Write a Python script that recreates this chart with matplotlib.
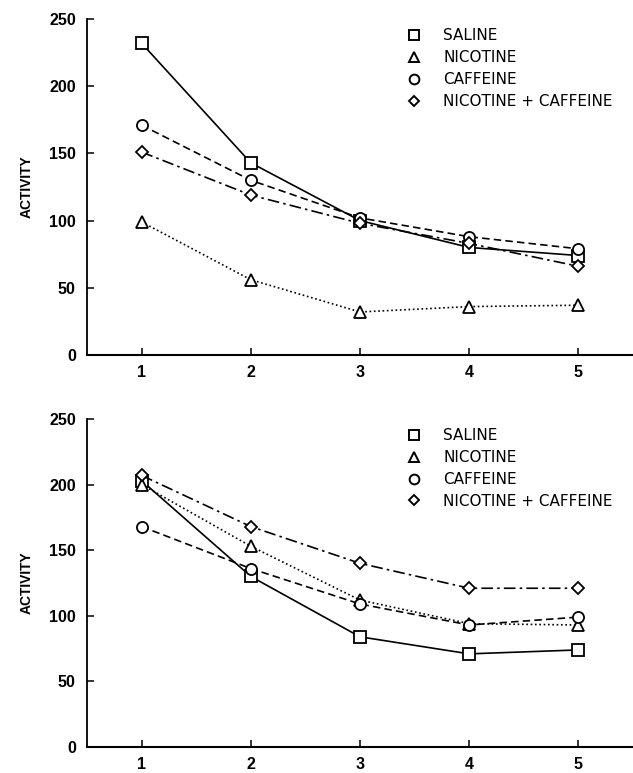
"""Activity across sessions for four treatment groups (two panels)."""

import matplotlib
matplotlib.use("Agg")
import matplotlib.pyplot as plt
from matplotlib.lines import Line2D

sessions = [1, 2, 3, 4, 5]
groups = ["SALINE", "NICOTINE", "CAFFEINE", "NICOTINE + CAFFEINE"]

# top panel
top_saline = [232, 143, 100, 80, 74]
top_nicotine = [99, 56, 32, 36, 37]
top_caffeine = [171, 130, 102, 88, 79]
top_nic_caf = [151, 119, 98, 83, 66]

# bottom panel
bot_saline = [203, 130, 84, 71, 74]
bot_nicotine = [200, 153, 112, 94, 93]
bot_caffeine = [168, 136, 109, 93, 99]
bot_nic_caf = [207, 168, 140, 121, 121]

yticks = [0, 50, 100, 150, 200, 250]

STYLES = [
    ("s", "-"),
    ("^", (0, (1, 1.6))),
    ("o", (0, (4.5, 2.5))),
    ("D", (0, (7, 2.5, 1.5, 2.5))),
]

plt.rcParams.update(
    {
        "font.family": ["Liberation Sans", "DejaVu Sans"],
        "font.weight": "bold",
    }
)


def draw_panel(ax, series):
    for values, (marker, ls) in zip(series, STYLES):
        ms = 6.5 if marker == "D" else 8
        ax.plot(
            sessions, values, color="black", linestyle=ls, linewidth=1.2,
            marker=marker, markersize=ms, markerfacecolor="white",
            markeredgecolor="black", markeredgewidth=1.3,
        )
    ax.set_xlim(0.5, 5.5)
    ax.set_ylim(0, 250)
    ax.set_xticks(sessions)
    ax.set_yticks(yticks)
    ax.spines["top"].set_visible(False)
    ax.spines["right"].set_visible(False)
    ax.spines["left"].set_linewidth(1.3)
    ax.spines["bottom"].set_linewidth(1.5)
    ax.tick_params(direction="in", length=5, width=1.1, labelsize=11.5)
    ax.tick_params(axis="y", pad=8)
    ax.tick_params(axis="x", pad=7)
    ax.set_ylabel("ACTIVITY", fontsize=10, fontweight="bold", labelpad=11)

    handles = []
    for marker, _ in STYLES:
        ms = 5.5 if marker == "D" else 7
        handles.append(
            Line2D([], [], linestyle="none", marker=marker, markersize=ms,
                   markerfacecolor="white", markeredgecolor="black",
                   markeredgewidth=1.4)
        )
    ax.legend(
        handles, groups, loc="upper left", bbox_to_anchor=(0.585, 0.972),
        frameon=False, prop={"family": "DejaVu Sans", "weight": "normal", "size": 11},
        handlelength=1.0, handletextpad=1.42, labelspacing=0.45,
        borderpad=0, borderaxespad=0,
    )


fig = plt.figure(figsize=(6.33, 7.73), dpi=100)
ax_top = fig.add_axes([0.1374, 0.5408, 0.8626, 0.4346])
ax_bot = fig.add_axes([0.1374, 0.0336, 0.8626, 0.4244])

draw_panel(ax_top, [top_saline, top_nicotine, top_caffeine, top_nic_caf])
draw_panel(ax_bot, [bot_saline, bot_nicotine, bot_caffeine, bot_nic_caf])

fig.savefig("out.png", dpi=100)
